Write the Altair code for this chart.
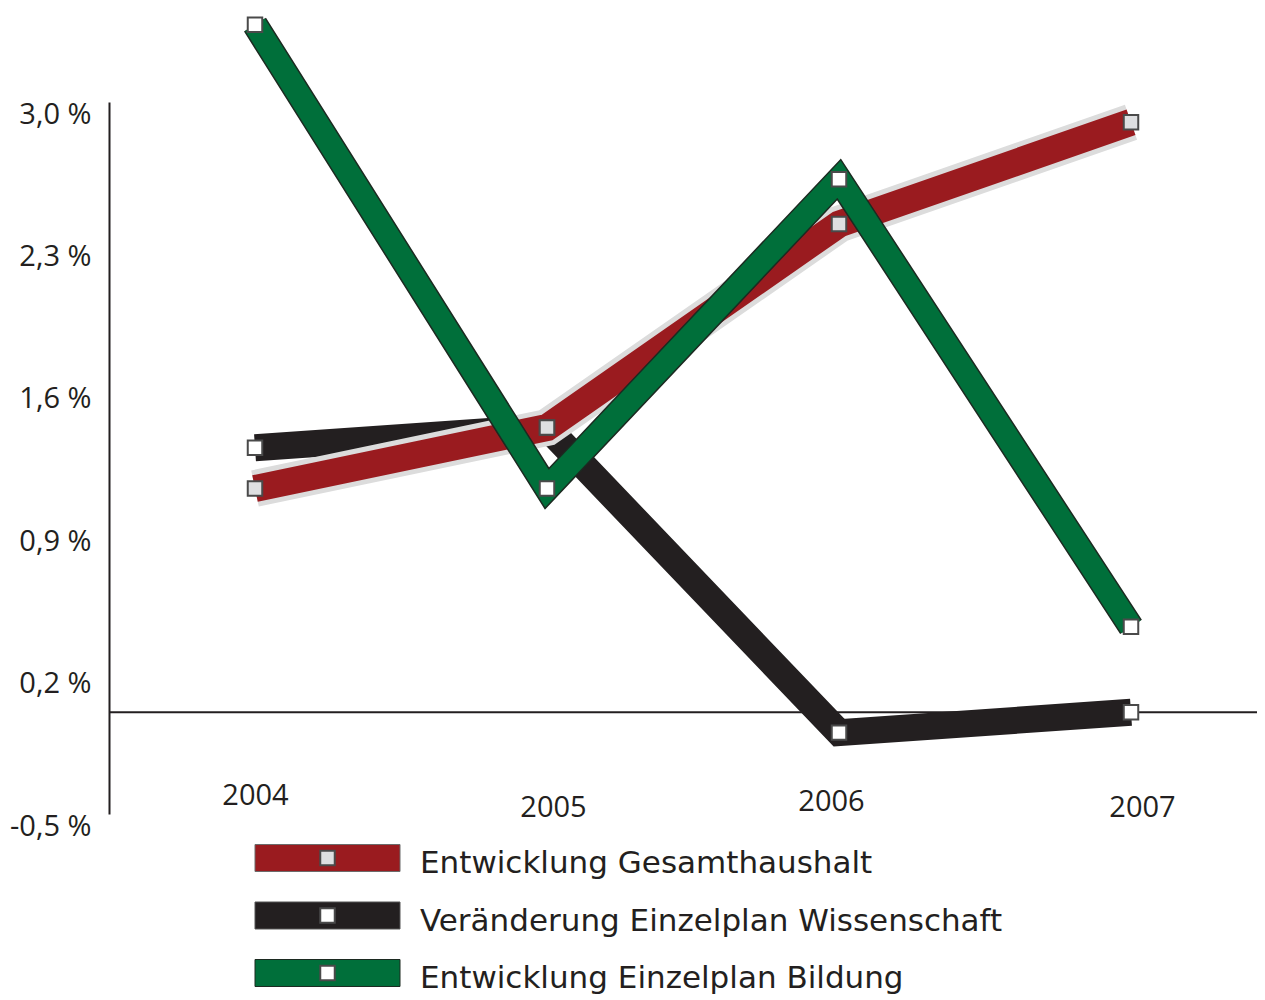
import altair as alt
import pandas as pd

# ---- data ----
years = [2004, 2005, 2006, 2007]
gesamthaushalt = [1.1, 1.4, 2.4, 2.9]
wissenschaft = [1.3, 1.4, -0.1, 0.0]
bildung = [3.38, 1.1, 2.62, 0.42]
series_names = [
    "Entwicklung Gesamthaushalt",
    "Veränderung Einzelplan Wissenschaft",
    "Entwicklung Einzelplan Bildung",
]
y_ticks = [-0.5, 0.2, 0.9, 1.6, 2.3, 3.0]

rows = []
for name, vals in zip(series_names, [gesamthaushalt, wissenschaft, bildung]):
    for yr, v in zip(years, vals):
        rows.append({"series": name, "year": yr, "value": v})
df = pd.DataFrame(rows)
legend_df = pd.DataFrame({"series": series_names})
zero_df = pd.DataFrame({"z": [0]})

FONT = "Open Sans"
LEG_FONT = "DejaVu Sans"
INK = "#231F20"
RED = "#9A1B1F"
HALO = "#DCDCDC"
BLACK = "#231F20"
GREEN = "#006F3A"
GREEN_EDGE = "#1C2A21"
MARK_EDGE = "#4A4A4A"
LIGHT = "#DEDFE1"

x_scale = alt.Scale(domain=[2003.5, 2007.4315], nice=False, zero=False)
y_scale = alt.Scale(domain=[-0.5, 3.0], nice=False, zero=False)

x_axis = alt.Axis(
    values=years, format="d", title=None, domain=False, ticks=False, grid=False,
    labelFont=FONT, labelFontSize=29, labelColor=INK, labelBaseline="top",
    labelFlush=False, labelOverlap=False, labelBound=False,
    labelPadding={"condition": [{"test": "datum.value == 2004", "value": -33},
                                {"test": "datum.value == 2006", "value": -27}],
                  "value": -21},
    labelOffset={"condition": [{"test": "datum.value == 2005", "value": 6},
                               {"test": "datum.value == 2006", "value": -8},
                               {"test": "datum.value == 2007", "value": 11}],
                 "value": 0},
)
y_axis = alt.Axis(
    values=y_ticks, title=None, ticks=False, grid=False,
    labelExpr="replace(replace(format(datum.value, '.1f'), '.', ','), '\u2212', '-') + ' %'",
    domainColor=INK, domainWidth=2,
    labelFont=FONT, labelFontSize=29, labelColor=INK, labelBaseline="top",
    labelPadding=18, labelOffset=-2, labelFlush=False, labelOverlap=False,
)

base = alt.Chart(df).encode(
    x=alt.X("year:Q", scale=x_scale, axis=x_axis),
    y=alt.Y("value:Q", scale=y_scale, axis=y_axis),
)


def sel(name):
    return base.transform_filter(alt.datum.series == name)


def line(name, color, width):
    return sel(name).mark_line(color=color, strokeWidth=width,
                               strokeJoin="miter", strokeCap="butt")


def markers(name, fill):
    return sel(name).mark_square(size=210, fill=fill, stroke=MARK_EDGE,
                                 strokeWidth=2, opacity=1)


zero_rule = alt.Chart(zero_df).mark_rule(color=INK, strokeWidth=2).encode(
    y=alt.Y("z:Q", scale=y_scale, axis=y_axis)
)

lines_group = alt.layer(
    zero_rule,
    line(series_names[1], BLACK, 27),
    line(series_names[0], HALO, 37),
    line(series_names[0], RED, 27),
    line(series_names[2], GREEN_EDGE, 26),
    line(series_names[2], GREEN, 23),
    markers(series_names[1], "white"),
    markers(series_names[0], LIGHT),
    markers(series_names[2], "white"),
)

# ---- custom legend below the plot ----
SWATCH = "M-1,-0.186L1,-0.186L1,0.186L-1,0.186Z"
leg_y = alt.Y("series:N", scale=alt.Scale(type="point", domain=series_names,
                                          range=[756, 871], padding=0), axis=None)
leg_base = alt.Chart(legend_df).encode(y=leg_y)

swatches = leg_base.mark_point(shape=SWATCH, size=145 ** 2, filled=True,
                               opacity=1, strokeWidth=1).encode(
    x=alt.value(218.5),
    fill=alt.Fill("series:N", scale=alt.Scale(domain=series_names,
                                              range=[RED, BLACK, GREEN]), legend=None),
    stroke=alt.Stroke("series:N", scale=alt.Scale(domain=series_names,
                                                  range=["#6B6B6B", "#555555", GREEN_EDGE]),
                      legend=None),
)
leg_marks = leg_base.mark_square(size=210, stroke=MARK_EDGE, strokeWidth=2,
                                 opacity=1).encode(
    x=alt.value(218.5),
    fill=alt.condition(alt.datum.series == series_names[0],
                       alt.value(LIGHT), alt.value("white")),
)
leg_text = leg_base.mark_text(align="left", baseline="alphabetic", dy=15,
                              font=LEG_FONT, fontSize=31, color=INK).encode(
    x=alt.value(311), text="series:N"
)
legend_group = alt.layer(swatches, leg_marks, leg_text)

chart = (
    alt.layer(lines_group, legend_group)
    .resolve_scale(y="independent")
    .properties(
        width=1148, height=712,
        padding={"left": 101, "top": 94, "right": 0, "bottom": 184},
        autosize=alt.AutoSizeParams(type="none"),
        background="white",
    )
    .configure_view(stroke=None)
)

chart.save("out.html", embed_options={"renderer": "svg", "actions": False})
